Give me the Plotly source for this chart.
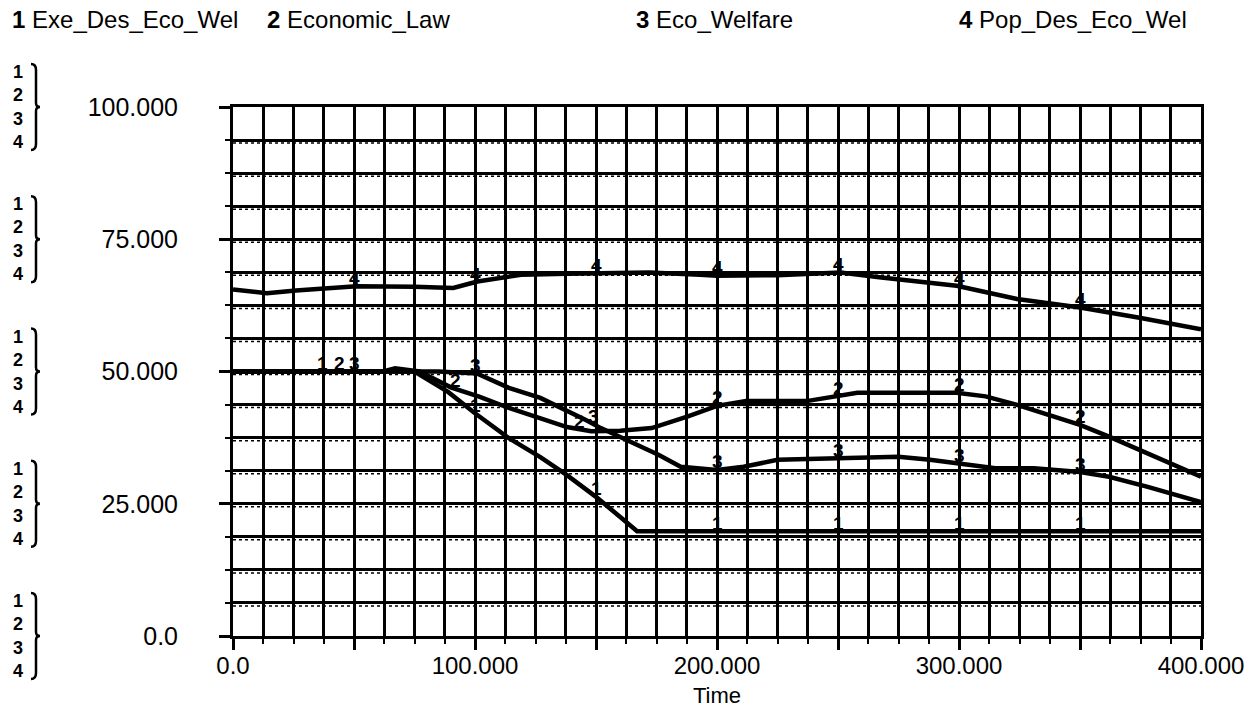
import numpy as np
import plotly.graph_objects as go

# ---- data -------------------------------------------------------------
names = ["Exe_Des_Eco_Wel", "Economic_Law", "Eco_Welfare", "Pop_Des_Eco_Wel"]

t1 = [0, 75, 89, 100, 114, 127, 138, 150, 160, 167, 200, 250, 300, 350, 400]
v1 = [50, 50, 46.1, 42.1, 37.4, 33.8, 30.4, 26.3, 22.5, 19.8, 19.8, 19.8, 19.8, 19.8, 19.8]

t2 = [0, 62, 67, 72, 77, 90, 102, 114, 127, 138, 148, 160, 173, 188, 200, 212,
      237, 250, 258, 274, 299, 311, 324, 337, 350, 362, 375, 388, 400]
v2 = [50, 50, 50.6, 50.3, 50, 47, 45.2, 43.1, 41.2, 39.5, 38.7, 38.8, 39.3, 41.5, 43.5, 44.4,
      44.4, 45.3, 46, 46, 46, 45.3, 43.7, 41.8, 39.9, 37.7, 35.1, 32.6, 30.1]

t3 = [0, 85, 101, 114, 127, 138, 146, 152, 164, 176, 185, 200, 211, 225, 250, 275,
      288, 299, 315, 331, 350, 362, 378, 400]
v3 = [50, 50, 49.6, 46.9, 45, 42.7, 40.8, 39.3, 36.7, 34.2, 32, 31.4, 32, 33.3, 33.6, 33.9,
      33.3, 32.6, 31.7, 31.7, 31.0, 30.1, 28.2, 25.3]

t4 = [0, 5, 14, 26, 39, 51, 75, 91, 101, 119, 138, 152, 172, 193, 200, 225, 251,
      267, 283, 299, 324, 350, 374, 400]
v4 = [65.5, 65.2, 64.8, 65.3, 65.8, 66.1, 66.0, 65.8, 67.0, 68.3, 68.5, 68.6, 68.7, 68.3,
      68.1, 68.2, 68.7, 67.8, 67.1, 66.2, 63.7, 62.1, 60.2, 58.0]

# times at which each curve carries its number tag
tag_t1 = [37, 100, 150, 200, 250, 300, 350]
tag_t2 = [44, 92, 143, 200, 250, 300, 350]
tag_t3 = [50, 100, 149, 200, 250, 300, 350]
tag_t4 = [50, 100, 150, 200, 250, 300, 350]

x_tickvals = [0, 50, 100, 150, 200, 250, 300, 350, 400]
x_ticktext = ["0.0", "", "100.000", "", "200.000", "", "300.000", "", "400.000"]
y_tickvals = [0, 25, 50, 75, 100]
y_ticktext = ["0.0", "25.000", "50.000", "75.000", "100.000"]
y_grid_step = 6.25
x_grid_step = 12.5

# ---- layout geometry --------------------------------------------------
W, H = 1254, 715
L, R, T, B = 233, 53, 107, 79
FONT = "Liberation Sans, Arial, sans-serif"


def px_x(px):
    return (px - L) / (W - L - R)


def px_y(py):
    return (H - B - py) / (H - T - B)


series = [(t1, v1, tag_t1), (t2, v2, tag_t2), (t3, v3, tag_t3), (t4, v4, tag_t4)]

fig = go.Figure()
for (t, v, _), nm in zip(series, names):
    fig.add_trace(go.Scatter(x=t, y=v, mode="lines", name=nm,
                             line=dict(color="#000000", width=4.5),
                             hoverinfo="skip"))

annotations = []
# numbered tags sitting on each curve
for k, (t, v, tags) in enumerate(series):
    for tt in tags:
        annotations.append(dict(x=tt, y=float(np.interp(tt, t, v)), xref="x", yref="y",
                                text="<b>%d</b>" % (k + 1), showarrow=False,
                                font=dict(family=FONT, size=19, color="#000000"),
                                yshift=8))

# header key
key_px = [10, 265, 634, 957]
for k, (nm, px) in enumerate(zip(names, key_px)):
    annotations.append(dict(x=px_x(px), y=px_y(20), xref="paper", yref="paper",
                            xanchor="left", yanchor="middle", showarrow=False,
                            text="<b>%d</b> %s" % (k + 1, nm),
                            font=dict(family=FONT, size=24, color="#000")))

shapes = []
# dotted companion line just under every horizontal grid line (print texture)
n_h = int(round(100 / y_grid_step))
for i in range(n_h):
    gv = i * y_grid_step
    shapes.append(dict(type="line", xref="x", yref="y", x0=0, x1=400,
                       ysizemode="pixel", yanchor=gv, y0=-3, y1=-3,
                       line=dict(color="#000", width=1.5, dash="dot"), layer="below"))

# stacked series numbers with a brace beside every y tick
for yv in y_tickvals:
    cy = H - B - yv * (H - T - B) / 100.0
    annotations.append(dict(x=px_x(18), y=px_y(cy), xref="paper", yref="paper",
                            xanchor="center", yanchor="middle", showarrow=False,
                            text="<b>1</b><br><b>2</b><br><b>3</b><br><b>4</b>",
                            font=dict(family=FONT, size=18, color="#000")))
    top, bot = cy - 43, cy + 43
    xa, xb, xc = px_x(31), px_x(36), px_x(40)
    path = ("M {xa},{t0} Q {xb},{t0} {xb},{t1} L {xb},{m0} Q {xb},{m} {xc},{m} "
            "Q {xb},{m} {xb},{m1} L {xb},{b1} Q {xb},{b0} {xa},{b0}").format(
        xa=xa, xb=xb, xc=xc,
        t0=px_y(top), t1=px_y(top + 6), m0=px_y(cy - 4), m=px_y(cy),
        m1=px_y(cy + 4), b1=px_y(bot - 6), b0=px_y(bot))
    shapes.append(dict(type="path", path=path, xref="paper", yref="paper",
                       line=dict(color="#000", width=2.5)))

grid = dict(showgrid=True, gridcolor="#000000", gridwidth=2.5)

fig.update_layout(
    width=W, height=H,
    margin=dict(l=L, r=R, t=T, b=B, pad=0, autoexpand=False),
    paper_bgcolor="white", plot_bgcolor="white",
    showlegend=False,
    font=dict(family=FONT, size=24, color="#000"),
    annotations=annotations, shapes=shapes,
    xaxis=dict(range=[0, 400], tickvals=x_tickvals, ticktext=x_ticktext,
               ticks="outside", ticklen=11, tickwidth=2.5, tickcolor="#000",
               showline=True, linecolor="#000", linewidth=3, mirror=True,
               zeroline=False, automargin=False, tickfont=dict(family=FONT, size=24),
               ticklabelstandoff=-5,
               title=dict(text="Time", standoff=10, font=dict(family=FONT, size=22)),
               minor=dict(dtick=x_grid_step, tick0=0, ticks="outside", ticklen=5,
                          tickwidth=2, tickcolor="#000", **grid),
               **grid),
    yaxis=dict(range=[0, 100], tickvals=y_tickvals, ticktext=y_ticktext,
               ticks="outside", ticklen=11, tickwidth=2.5, tickcolor="#000",
               showline=True, linecolor="#000", linewidth=3, mirror=True,
               zeroline=False, automargin=False, tickfont=dict(family=FONT, size=25),
               ticklabelstandoff=36,
               minor=dict(dtick=y_grid_step, tick0=0, ticks="outside", ticklen=5,
                          tickwidth=2, tickcolor="#000", **grid),
               **grid),
)

fig.write_html("out.html")
